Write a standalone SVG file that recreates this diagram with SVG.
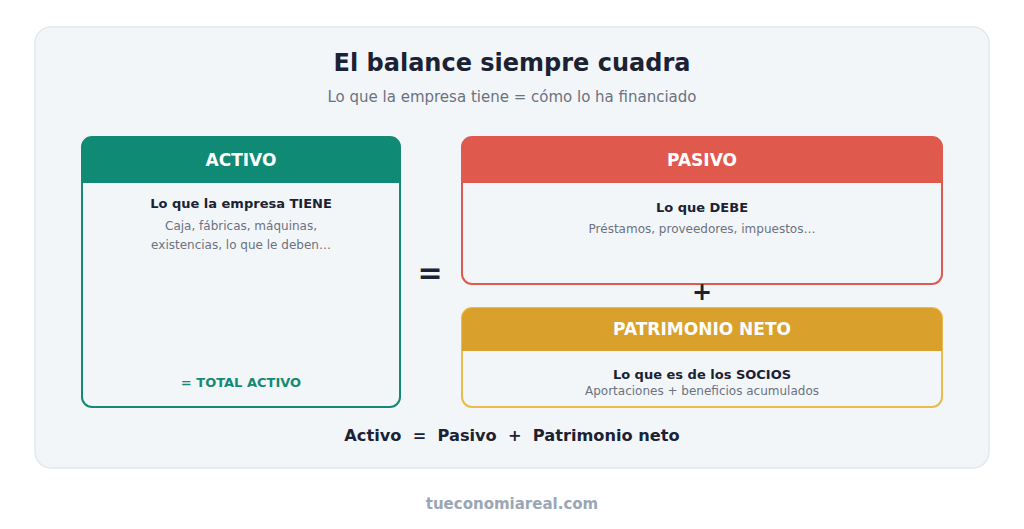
<svg xmlns="http://www.w3.org/2000/svg" width="1024" height="529" viewBox="0 0 1024 529">
<style>
.t{font-family:"DejaVu Sans","Liberation Sans",sans-serif;text-anchor:middle}
.hd{font-size:17px;font-weight:bold;fill:#ffffff}
.lead{font-size:13px;font-weight:bold;fill:#1a2233}
.desc{font-size:12px;fill:#6b7280}
.card{fill:#f3f6f9;stroke-width:2}
</style>
<rect x="0" y="0" width="1024" height="529" fill="#ffffff"/>
<rect x="35" y="27" width="954" height="441" rx="16" fill="#f3f6f9" stroke="#e2e8f0" stroke-width="1.5"/>
<text class="t" x="512" y="71" font-size="24" font-weight="bold" fill="#1a2233">El balance siempre cuadra</text>
<text class="t" x="512" y="102" font-size="15" fill="#6b7280">Lo que la empresa tiene = cómo lo ha financiado</text>

<g id="activo">
<rect class="card" x="82" y="137" width="318" height="270" rx="10" stroke="#128a74"/>
<path d="M82 183 V147 A10 10 0 0 1 92 137 H390 A10 10 0 0 1 400 147 V183 Z" fill="#0f8a74"/>
<text class="t hd" x="241" y="166">ACTIVO</text>
<text class="t lead" x="241" y="208">Lo que la empresa TIENE</text>
<text class="t desc" x="241" y="230">Caja, fábricas, máquinas,</text>
<text class="t desc" x="241" y="249">existencias, lo que le deben…</text>
<text class="t" x="241" y="387" font-size="13" font-weight="bold" fill="#128a74">= TOTAL ACTIVO</text>
</g>

<g id="pasivo">
<rect class="card" x="462" y="137" width="480" height="147" rx="10" stroke="#dc5a4e"/>
<path d="M462 183 V147 A10 10 0 0 1 472 137 H932 A10 10 0 0 1 942 147 V183 Z" fill="#e0594d"/>
<text class="t hd" x="702" y="166">PASIVO</text>
<text class="t lead" x="702" y="212">Lo que DEBE</text>
<text class="t desc" x="702" y="233">Préstamos, proveedores, impuestos…</text>
</g>

<g id="patrimonio">
<rect class="card" x="462" y="308" width="480" height="99" rx="10" stroke="#ebbb4c"/>
<path d="M462 351 V318 A10 10 0 0 1 472 308 H932 A10 10 0 0 1 942 318 V351 Z" fill="#d9a12b"/>
<text class="t hd" x="702" y="335">PATRIMONIO NETO</text>
<text class="t lead" x="702" y="379">Lo que es de los SOCIOS</text>
<text class="t desc" x="702" y="395">Aportaciones + beneficios acumulados</text>
</g>

<g id="connectors">
<text class="t" x="430" y="283" font-size="30" font-weight="bold" fill="#1a2233">=</text>
<text class="t" x="702" y="300" font-size="24" font-weight="bold" fill="#1a2233">+</text>
</g>

<text class="t" x="512" y="441" font-size="16.2" font-weight="bold" fill="#1a2233" xml:space="preserve">Activo  =  Pasivo  +  Patrimonio neto</text>
<text class="t" x="512" y="509" font-size="15" font-weight="bold" fill="#9aa6b6">tueconomiareal.com</text>
</svg>
